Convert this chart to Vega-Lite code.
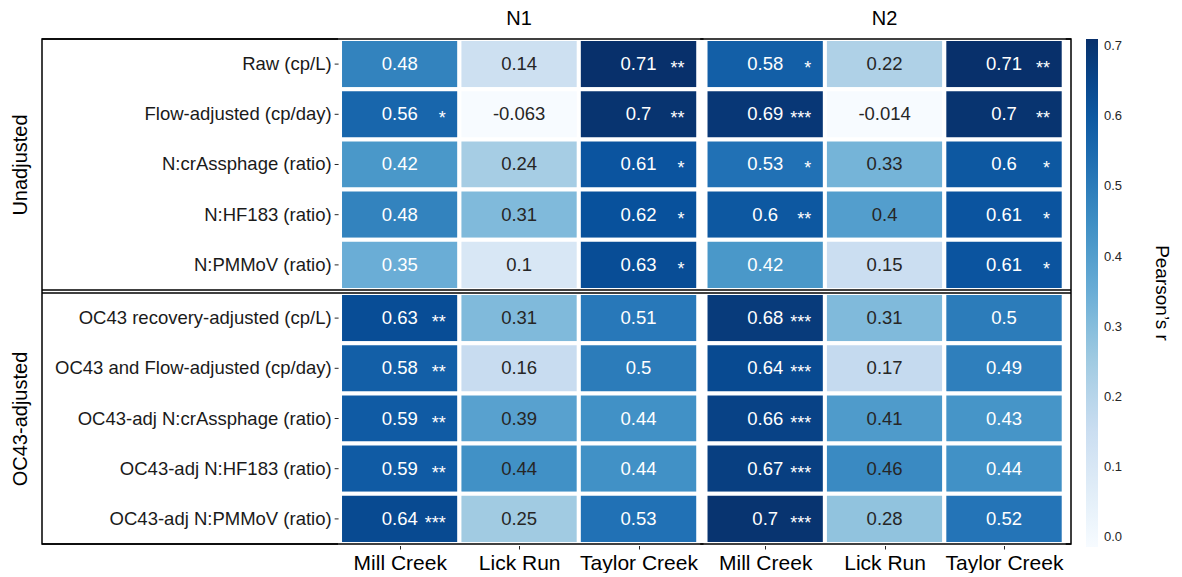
{
  "$schema": "https://vega.github.io/schema/vega-lite/v6.json",
  "width": 1029,
  "height": 505,
  "padding": {"left": 10, "top": 8, "right": 0, "bottom": 0},
  "config": {"view": {"stroke": "black", "strokeWidth": 1.5}, "font": "Liberation Sans"},
  "data": {"values": [
    {"group":"Unadjusted","metric":"Raw (cp/L)","gene":"N1","site":"Mill Creek","r":0.48,"sig":""},
    {"group":"Unadjusted","metric":"Raw (cp/L)","gene":"N1","site":"Lick Run","r":0.14,"sig":""},
    {"group":"Unadjusted","metric":"Raw (cp/L)","gene":"N1","site":"Taylor Creek","r":0.71,"sig":"**"},
    {"group":"Unadjusted","metric":"Raw (cp/L)","gene":"N2","site":"Mill Creek","r":0.58,"sig":"*"},
    {"group":"Unadjusted","metric":"Raw (cp/L)","gene":"N2","site":"Lick Run","r":0.22,"sig":""},
    {"group":"Unadjusted","metric":"Raw (cp/L)","gene":"N2","site":"Taylor Creek","r":0.71,"sig":"**"},
    {"group":"Unadjusted","metric":"Flow-adjusted (cp/day)","gene":"N1","site":"Mill Creek","r":0.56,"sig":"*"},
    {"group":"Unadjusted","metric":"Flow-adjusted (cp/day)","gene":"N1","site":"Lick Run","r":-0.063,"sig":""},
    {"group":"Unadjusted","metric":"Flow-adjusted (cp/day)","gene":"N1","site":"Taylor Creek","r":0.7,"sig":"**"},
    {"group":"Unadjusted","metric":"Flow-adjusted (cp/day)","gene":"N2","site":"Mill Creek","r":0.69,"sig":"***"},
    {"group":"Unadjusted","metric":"Flow-adjusted (cp/day)","gene":"N2","site":"Lick Run","r":-0.014,"sig":""},
    {"group":"Unadjusted","metric":"Flow-adjusted (cp/day)","gene":"N2","site":"Taylor Creek","r":0.7,"sig":"**"},
    {"group":"Unadjusted","metric":"N:crAssphage (ratio)","gene":"N1","site":"Mill Creek","r":0.42,"sig":""},
    {"group":"Unadjusted","metric":"N:crAssphage (ratio)","gene":"N1","site":"Lick Run","r":0.24,"sig":""},
    {"group":"Unadjusted","metric":"N:crAssphage (ratio)","gene":"N1","site":"Taylor Creek","r":0.61,"sig":"*"},
    {"group":"Unadjusted","metric":"N:crAssphage (ratio)","gene":"N2","site":"Mill Creek","r":0.53,"sig":"*"},
    {"group":"Unadjusted","metric":"N:crAssphage (ratio)","gene":"N2","site":"Lick Run","r":0.33,"sig":""},
    {"group":"Unadjusted","metric":"N:crAssphage (ratio)","gene":"N2","site":"Taylor Creek","r":0.6,"sig":"*"},
    {"group":"Unadjusted","metric":"N:HF183 (ratio)","gene":"N1","site":"Mill Creek","r":0.48,"sig":""},
    {"group":"Unadjusted","metric":"N:HF183 (ratio)","gene":"N1","site":"Lick Run","r":0.31,"sig":""},
    {"group":"Unadjusted","metric":"N:HF183 (ratio)","gene":"N1","site":"Taylor Creek","r":0.62,"sig":"*"},
    {"group":"Unadjusted","metric":"N:HF183 (ratio)","gene":"N2","site":"Mill Creek","r":0.6,"sig":"**"},
    {"group":"Unadjusted","metric":"N:HF183 (ratio)","gene":"N2","site":"Lick Run","r":0.4,"sig":""},
    {"group":"Unadjusted","metric":"N:HF183 (ratio)","gene":"N2","site":"Taylor Creek","r":0.61,"sig":"*"},
    {"group":"Unadjusted","metric":"N:PMMoV (ratio)","gene":"N1","site":"Mill Creek","r":0.35,"sig":""},
    {"group":"Unadjusted","metric":"N:PMMoV (ratio)","gene":"N1","site":"Lick Run","r":0.1,"sig":""},
    {"group":"Unadjusted","metric":"N:PMMoV (ratio)","gene":"N1","site":"Taylor Creek","r":0.63,"sig":"*"},
    {"group":"Unadjusted","metric":"N:PMMoV (ratio)","gene":"N2","site":"Mill Creek","r":0.42,"sig":""},
    {"group":"Unadjusted","metric":"N:PMMoV (ratio)","gene":"N2","site":"Lick Run","r":0.15,"sig":""},
    {"group":"Unadjusted","metric":"N:PMMoV (ratio)","gene":"N2","site":"Taylor Creek","r":0.61,"sig":"*"},
    {"group":"OC43-adjusted","metric":"OC43 recovery-adjusted (cp/L)","gene":"N1","site":"Mill Creek","r":0.63,"sig":"**"},
    {"group":"OC43-adjusted","metric":"OC43 recovery-adjusted (cp/L)","gene":"N1","site":"Lick Run","r":0.31,"sig":""},
    {"group":"OC43-adjusted","metric":"OC43 recovery-adjusted (cp/L)","gene":"N1","site":"Taylor Creek","r":0.51,"sig":""},
    {"group":"OC43-adjusted","metric":"OC43 recovery-adjusted (cp/L)","gene":"N2","site":"Mill Creek","r":0.68,"sig":"***"},
    {"group":"OC43-adjusted","metric":"OC43 recovery-adjusted (cp/L)","gene":"N2","site":"Lick Run","r":0.31,"sig":""},
    {"group":"OC43-adjusted","metric":"OC43 recovery-adjusted (cp/L)","gene":"N2","site":"Taylor Creek","r":0.5,"sig":""},
    {"group":"OC43-adjusted","metric":"OC43 and Flow-adjusted (cp/day)","gene":"N1","site":"Mill Creek","r":0.58,"sig":"**"},
    {"group":"OC43-adjusted","metric":"OC43 and Flow-adjusted (cp/day)","gene":"N1","site":"Lick Run","r":0.16,"sig":""},
    {"group":"OC43-adjusted","metric":"OC43 and Flow-adjusted (cp/day)","gene":"N1","site":"Taylor Creek","r":0.5,"sig":""},
    {"group":"OC43-adjusted","metric":"OC43 and Flow-adjusted (cp/day)","gene":"N2","site":"Mill Creek","r":0.64,"sig":"***"},
    {"group":"OC43-adjusted","metric":"OC43 and Flow-adjusted (cp/day)","gene":"N2","site":"Lick Run","r":0.17,"sig":""},
    {"group":"OC43-adjusted","metric":"OC43 and Flow-adjusted (cp/day)","gene":"N2","site":"Taylor Creek","r":0.49,"sig":""},
    {"group":"OC43-adjusted","metric":"OC43-adj N:crAssphage (ratio)","gene":"N1","site":"Mill Creek","r":0.59,"sig":"**"},
    {"group":"OC43-adjusted","metric":"OC43-adj N:crAssphage (ratio)","gene":"N1","site":"Lick Run","r":0.39,"sig":""},
    {"group":"OC43-adjusted","metric":"OC43-adj N:crAssphage (ratio)","gene":"N1","site":"Taylor Creek","r":0.44,"sig":""},
    {"group":"OC43-adjusted","metric":"OC43-adj N:crAssphage (ratio)","gene":"N2","site":"Mill Creek","r":0.66,"sig":"***"},
    {"group":"OC43-adjusted","metric":"OC43-adj N:crAssphage (ratio)","gene":"N2","site":"Lick Run","r":0.41,"sig":""},
    {"group":"OC43-adjusted","metric":"OC43-adj N:crAssphage (ratio)","gene":"N2","site":"Taylor Creek","r":0.43,"sig":""},
    {"group":"OC43-adjusted","metric":"OC43-adj N:HF183 (ratio)","gene":"N1","site":"Mill Creek","r":0.59,"sig":"**"},
    {"group":"OC43-adjusted","metric":"OC43-adj N:HF183 (ratio)","gene":"N1","site":"Lick Run","r":0.44,"sig":""},
    {"group":"OC43-adjusted","metric":"OC43-adj N:HF183 (ratio)","gene":"N1","site":"Taylor Creek","r":0.44,"sig":""},
    {"group":"OC43-adjusted","metric":"OC43-adj N:HF183 (ratio)","gene":"N2","site":"Mill Creek","r":0.67,"sig":"***"},
    {"group":"OC43-adjusted","metric":"OC43-adj N:HF183 (ratio)","gene":"N2","site":"Lick Run","r":0.46,"sig":""},
    {"group":"OC43-adjusted","metric":"OC43-adj N:HF183 (ratio)","gene":"N2","site":"Taylor Creek","r":0.44,"sig":""},
    {"group":"OC43-adjusted","metric":"OC43-adj N:PMMoV (ratio)","gene":"N1","site":"Mill Creek","r":0.64,"sig":"***"},
    {"group":"OC43-adjusted","metric":"OC43-adj N:PMMoV (ratio)","gene":"N1","site":"Lick Run","r":0.25,"sig":""},
    {"group":"OC43-adjusted","metric":"OC43-adj N:PMMoV (ratio)","gene":"N1","site":"Taylor Creek","r":0.53,"sig":""},
    {"group":"OC43-adjusted","metric":"OC43-adj N:PMMoV (ratio)","gene":"N2","site":"Mill Creek","r":0.7,"sig":"***"},
    {"group":"OC43-adjusted","metric":"OC43-adj N:PMMoV (ratio)","gene":"N2","site":"Lick Run","r":0.28,"sig":""},
    {"group":"OC43-adjusted","metric":"OC43-adj N:PMMoV (ratio)","gene":"N2","site":"Taylor Creek","r":0.52,"sig":""}
  ]},
  "transform": [
    {"calculate": "(datum.gene == 'N1' ? 0 : 3.061) + (datum.site == 'Mill Creek' ? 0 : (datum.site == 'Lick Run' ? 1 : 2))", "as": "xs"},
    {"calculate": "datum.xs + 1", "as": "xe"},
    {"calculate": "datum.xs + 0.5", "as": "xc"},
    {"calculate": "datum.xs + 0.885", "as": "xstar"},
    {"calculate": "datum.metric == 'Raw (cp/L)' ? 0 : datum.metric == 'Flow-adjusted (cp/day)' ? 1 : datum.metric == 'N:crAssphage (ratio)' ? 2 : datum.metric == 'N:HF183 (ratio)' ? 3 : datum.metric == 'N:PMMoV (ratio)' ? 4 : datum.metric == 'OC43 recovery-adjusted (cp/L)' ? 5.06 : datum.metric == 'OC43 and Flow-adjusted (cp/day)' ? 6.06 : datum.metric == 'OC43-adj N:crAssphage (ratio)' ? 7.06 : datum.metric == 'OC43-adj N:HF183 (ratio)' ? 8.06 : 9.06", "as": "ys"},
    {"calculate": "datum.ys + 1", "as": "ye"},
    {"calculate": "datum.ys + 0.5", "as": "yc"}
  ],
  "layer": [
    {
      "mark": {"type": "rect", "stroke": "white", "strokeWidth": 4},
      "encoding": {
        "x": {"field": "xs", "type": "quantitative", "scale": {"domain": [-2.496, 6.122], "nice": false, "zero": false},
              "axis": {"title": null, "values": [0.5, 1.5, 2.5, 3.561, 4.561, 5.561], "labelExpr": "floor(datum.value) % 3 == 0 ? 'Mill Creek' : (floor(datum.value) % 3 == 1 ? 'Lick Run' : 'Taylor Creek')", "domain": false, "tickSize": 5, "tickColor": "#262626", "grid": false, "labelFontSize": 21, "labelPadding": 3, "labelColor": "black"}},
        "x2": {"field": "xe"},
        "y": {"field": "ys", "type": "quantitative", "scale": {"domain": [0, 10.06], "reverse": true, "nice": false, "zero": false},
              "axis": {"title": null, "values": [2.5, 7.56], "labelExpr": "datum.value < 5 ? 'Unadjusted' : 'OC43-adjusted'", "labelAngle": -90, "labelAlign": "center", "labelBaseline": "bottom", "domain": false, "ticks": false, "grid": false, "labelFontSize": 20, "labelPadding": 12, "labelColor": "black"}},
        "y2": {"field": "ye"},
        "color": {"field": "r", "type": "quantitative",
                  "scale": {"domain": [-0.014, 0.0765, 0.167, 0.2575, 0.348, 0.4385, 0.529, 0.6195, 0.71], "range": ["#f7fbff", "#deebf7", "#c6dbef", "#9ecae1", "#6baed6", "#4292c6", "#2171b5", "#08519c", "#08306b"], "interpolate": "rgb", "clamp": true},
                  "legend": {"title": "Pearson\u2019s r", "titleOrient": "right", "titleAnchor": "middle", "titleFontSize": 19, "titleFontWeight": "normal", "titleColor": "black", "titlePadding": 30, "gradientLength": 508, "gradientThickness": 12, "gradientStrokeWidth": 0, "values": [0, 0.1, 0.2, 0.3, 0.4, 0.5, 0.6, 0.7], "labelFontSize": 13, "labelColor": "#262626", "labelOffset": 6, "offset": 15}}
      }
    },
    {
      "mark": {"type": "rule", "color": "black", "strokeWidth": 1.5},
      "transform": [{"filter": "datum.xs == 0 && datum.ys == 0"}],
      "encoding": {
        "x": {"datum": -2.496, "type": "quantitative", "scale": {"domain": [-2.496, 6.122], "nice": false, "zero": false}},
        "x2": {"datum": 6.122},
        "y": {"datum": 0, "type": "quantitative", "scale": {"domain": [0, 10.06], "reverse": true, "nice": false, "zero": false}}
      }
    },
    {
      "mark": {"type": "rule", "color": "black", "strokeWidth": 1.5},
      "transform": [{"filter": "datum.xs == 0 && datum.ys == 0"}],
      "encoding": {
        "x": {"datum": -2.496, "type": "quantitative", "scale": {"domain": [-2.496, 6.122], "nice": false, "zero": false}},
        "x2": {"datum": 6.122},
        "y": {"datum": 10.06, "type": "quantitative", "scale": {"domain": [0, 10.06], "reverse": true, "nice": false, "zero": false}}
      }
    },
    {
      "mark": {"type": "rule", "color": "black", "strokeWidth": 1.5},
      "transform": [{"filter": "datum.xs == 0 && datum.ys == 0"}],
      "encoding": {
        "x": {"datum": -2.496, "type": "quantitative", "scale": {"domain": [-2.496, 6.122], "nice": false, "zero": false}},
        "x2": {"datum": 6.122},
        "y": {"datum": 5.0, "type": "quantitative", "scale": {"domain": [0, 10.06], "reverse": true, "nice": false, "zero": false}}
      }
    },
    {
      "mark": {"type": "rule", "color": "black", "strokeWidth": 1.5},
      "transform": [{"filter": "datum.xs == 0 && datum.ys == 0"}],
      "encoding": {
        "x": {"datum": -2.496, "type": "quantitative", "scale": {"domain": [-2.496, 6.122], "nice": false, "zero": false}},
        "x2": {"datum": 6.122},
        "y": {"datum": 5.06, "type": "quantitative", "scale": {"domain": [0, 10.06], "reverse": true, "nice": false, "zero": false}}
      }
    },
    {
      "mark": {"type": "text", "fontSize": 18.5, "align": "center", "baseline": "middle"},
      "encoding": {
        "x": {"field": "xc", "type": "quantitative", "scale": {"domain": [-2.496, 6.122], "nice": false, "zero": false}},
        "y": {"field": "yc", "type": "quantitative", "scale": {"domain": [0, 10.06], "reverse": true, "nice": false, "zero": false}},
        "text": {"field": "r"},
        "color": {"condition": {"test": "datum.r > 0.34 && datum.site != 'Lick Run'", "value": "white"}, "value": "#262626"}
      }
    },
    {
      "mark": {"type": "text", "fontSize": 18, "align": "right", "baseline": "middle", "dy": 5, "color": "white"},
      "encoding": {
        "x": {"field": "xstar", "type": "quantitative", "scale": {"domain": [-2.496, 6.122], "nice": false, "zero": false}},
        "y": {"field": "yc", "type": "quantitative", "scale": {"domain": [0, 10.06], "reverse": true, "nice": false, "zero": false}},
        "text": {"field": "sig"}
      }
    },
    {
      "mark": {"type": "text", "fontSize": 18.5, "align": "right", "baseline": "middle", "color": "#1a1a1a"},
      "transform": [{"filter": "datum.xs == 0"}],
      "encoding": {
        "x": {"datum": -0.07, "type": "quantitative", "scale": {"domain": [-2.496, 6.122], "nice": false, "zero": false}},
        "y": {"field": "yc", "type": "quantitative", "scale": {"domain": [0, 10.06], "reverse": true, "nice": false, "zero": false}},
        "text": {"field": "metric"}
      }
    },
    {
      "mark": {"type": "rule", "color": "#262626", "strokeWidth": 1},
      "transform": [{"filter": "datum.xs == 0"}],
      "encoding": {
        "x": {"datum": -0.045, "type": "quantitative", "scale": {"domain": [-2.496, 6.122], "nice": false, "zero": false}},
        "x2": {"datum": -0.012},
        "y": {"field": "yc", "type": "quantitative", "scale": {"domain": [0, 10.06], "reverse": true, "nice": false, "zero": false}}
      }
    },
    {
      "mark": {"type": "text", "fontSize": 20, "align": "center", "baseline": "middle", "color": "black"},
      "transform": [{"filter": "datum.ys == 0 && datum.site == 'Lick Run'"}],
      "encoding": {
        "x": {"field": "xc", "type": "quantitative", "scale": {"domain": [-2.496, 6.122], "nice": false, "zero": false}},
        "y": {"datum": -0.4, "type": "quantitative", "scale": {"domain": [0, 10.06], "reverse": true, "nice": false, "zero": false}},
        "text": {"field": "gene"}
      }
    }
  ]
}
